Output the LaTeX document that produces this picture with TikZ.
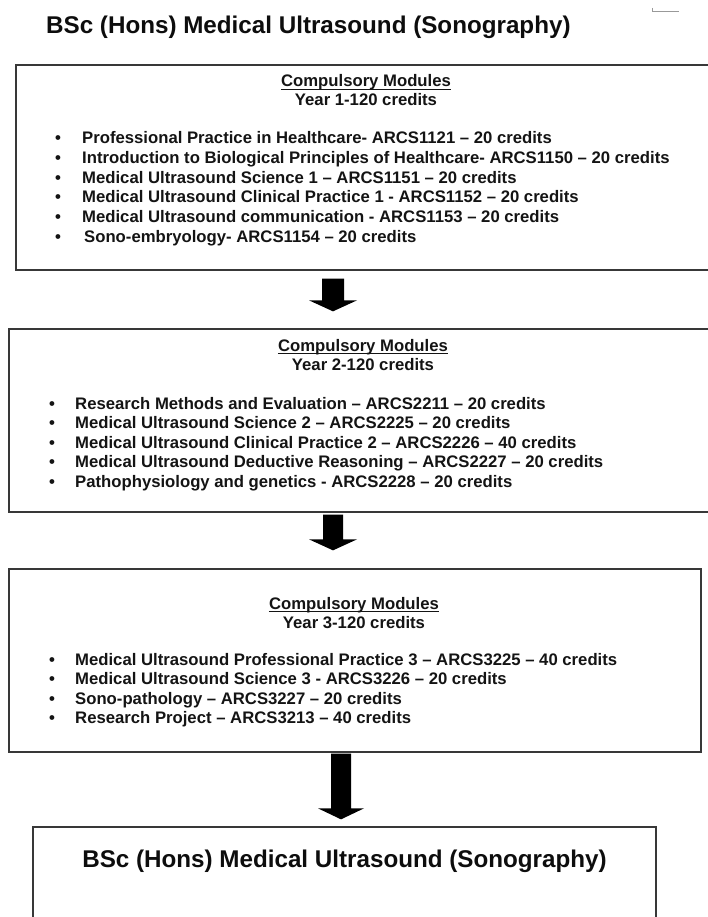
\documentclass[tikz,border=0pt]{standalone}
\usepackage{fontspec}
\setmainfont{Liberation Sans}
\usetikzlibrary{calc}
\newcommand\bodyfnt{\fontsize{16.7}{20}\selectfont\bfseries}
\newcommand\headfnt{\fontsize{24.2}{28}\selectfont\bfseries}
\newcommand\fatarrow[4]{%
  \fill[arrowfill] let \p1=(#1), \p2=(#2) in
    (\x1-#3pt,\y1) -- (\x1+#3pt,\y1) -- (\x1+#3pt,\y2+11pt) -- (\x1+#4pt,\y2+11pt)
    -- (\x1,\y2) -- (\x1-#4pt,\y2+11pt) -- (\x1-#3pt,\y2+11pt) -- cycle;}
\begin{document}
\begin{tikzpicture}[x=1pt,y=-1pt,
  box/.style={draw=black!78, line width=1.3pt, rectangle, inner sep=0pt, fill=none},
  txt/.style={font=\bodyfnt, anchor=base west, inner sep=0pt, text=black!92},
  ctxt/.style={font=\bodyfnt, anchor=base, inner sep=0pt, text=black!92},
  bul/.style={font=\bodyfnt, anchor=base, inner sep=0pt, text=black!92},
  head/.style={font=\headfnt, inner sep=0pt, text=black!95},
  uline/.style={draw=black!92, line width=0.9pt},
  arrowfill/.style={fill=black}]
\useasboundingbox (0,0) rectangle (707,917);
\fill[white] (0,0) rectangle (707,917);

% title
\node[head, anchor=base west] (title) at (46,34) {BSc (Hons) Medical Ultrasound (Sonography)};
% small mark top right
\coordinate (m1) at (652,8);
\coordinate (m2) at (652,11);
\coordinate (m3) at (679,11);
\draw[black!40, line width=0.8pt] (m1) -- (m2) -- (m3);

% boxes
\node[box, minimum width=696pt, minimum height=205pt] (b1) at (364,167.5) {};
\node[box, minimum width=703pt, minimum height=183pt] (b2) at (360.5,420.5) {};
\node[box, minimum width=692pt, minimum height=183pt] (b3) at (355,660.5) {};
\node[box, minimum width=623pt, minimum height=103pt] (b4) at (344.5,878.5) {};

% box 1 text
\node[ctxt] (h1) at (366,87) {Compulsory Modules};
\draw[uline] ($(h1.base west)+(0,2.2)$) -- ($(h1.base east)+(0,2.2)$);
\node[ctxt] (y1) at (366,106) {Year 1-120 credits};
\foreach \n/\yy/\xx/\t in {
  1/144/82/{Professional Practice in Healthcare- ARCS1121 – 20 credits},
  2/163.6/82/{Introduction to Biological Principles of Healthcare- ARCS1150 – 20 credits},
  3/183.2/82/{Medical Ultrasound Science 1 – ARCS1151 – 20 credits},
  4/202.8/82/{Medical Ultrasound Clinical Practice 1 - ARCS1152 – 20 credits},
  5/222.4/82/{Medical Ultrasound communication - ARCS1153 – 20 credits},
  6/242/84/{Sono-embryology- ARCS1154 – 20 credits}}{
  \node[bul] (b1d\n) at (58,\yy) {•};
  \node[txt] (b1t\n) at (\xx,\yy) {\t};
}

% box 2 text
\node[ctxt] (h2) at (363,351) {Compulsory Modules};
\draw[uline] ($(h2.base west)+(0,2.2)$) -- ($(h2.base east)+(0,2.2)$);
\node[ctxt] (y2) at (363,370) {Year 2-120 credits};
\foreach \n/\yy/\t in {
  1/409/{Research Methods and Evaluation – ARCS2211 – 20 credits},
  2/428.6/{Medical Ultrasound Science 2 – ARCS2225 – 20 credits},
  3/448.2/{Medical Ultrasound Clinical Practice 2 – ARCS2226 – 40 credits},
  4/467.8/{Medical Ultrasound Deductive Reasoning – ARCS2227 – 20 credits},
  5/487.4/{Pathophysiology and genetics - ARCS2228 – 20 credits}}{
  \node[bul] (b2d\n) at (52,\yy) {•};
  \node[txt] (b2t\n) at (75,\yy) {\t};
}

% box 3 text
\node[ctxt] (h3) at (354,609) {Compulsory Modules};
\draw[uline] ($(h3.base west)+(0,2.2)$) -- ($(h3.base east)+(0,2.2)$);
\node[ctxt] (y3) at (354,628) {Year 3-120 credits};
\foreach \n/\yy/\t in {
  1/665/{Medical Ultrasound Professional Practice 3 – ARCS3225 – 40 credits},
  2/684.6/{Medical Ultrasound Science 3 - ARCS3226 – 20 credits},
  3/704.2/{Sono-pathology – ARCS3227 – 20 credits},
  4/723.8/{Research Project – ARCS3213 – 40 credits}}{
  \node[bul] (b3d\n) at (52,\yy) {•};
  \node[txt] (b3t\n) at (75,\yy) {\t};
}

% box 4 text
\node[head, anchor=base] (t4) at (344.5,867) {BSc (Hons) Medical Ultrasound (Sonography)};

% arrows
\coordinate (c1) at (333,0);
\coordinate (c3) at (341,0);
\coordinate (a1s) at ($(b1.south -| c1)+(0,8)$);
\coordinate (a1e) at ($(b2.north -| c1)+(0,-17)$);
\coordinate (a2s) at ($(b2.south -| c1)+(0,2)$);
\coordinate (a2e) at ($(b3.north -| c1)+(0,-18)$);
\coordinate (a3s) at ($(b3.south -| c3)+(0,1)$);
\coordinate (a3e) at ($(b4.north -| c3)+(0,-7)$);
\fatarrow{a1s}{a1e}{11}{24}
\fatarrow{a2s}{a2e}{10}{24}
\fatarrow{a3s}{a3e}{10}{23}
\end{tikzpicture}
\end{document}
